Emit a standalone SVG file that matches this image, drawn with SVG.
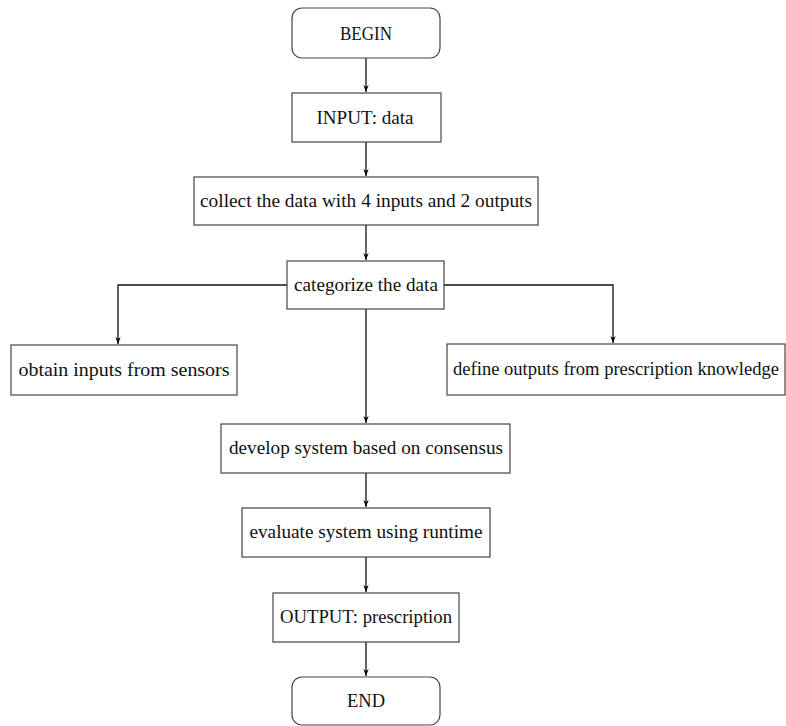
<svg xmlns="http://www.w3.org/2000/svg" width="786" height="726" viewBox="0 0 786 726">
<defs>
<marker id="ah" viewBox="0 0 10 10" refX="10" refY="5" markerWidth="7" markerHeight="7" markerUnits="userSpaceOnUse" orient="auto">
<path d="M0,1.2 L10,5 L0,8.8 L3,5 Z" fill="#000"/>
</marker>
</defs>
<style>
.box{fill:#fff;stroke:#444;stroke-width:1.2}
.lbl{font-family:"Liberation Serif","Times New Roman",serif;font-size:19px;fill:#111;text-anchor:middle}
.con{fill:none;stroke:#111;stroke-width:1.3}
</style>
<rect width="786" height="726" fill="#fff"/>
<g id="connectors">
<path class="con" d="M366,58 V92" marker-end="url(#ah)"/>
<path class="con" d="M366,142 V176" marker-end="url(#ah)"/>
<path class="con" d="M366,225 V260" marker-end="url(#ah)"/>
<path class="con" d="M287,285 H118 V344" marker-end="url(#ah)"/>
<path class="con" d="M444,285 H613 V343" marker-end="url(#ah)"/>
<path class="con" d="M366,309 V423" marker-end="url(#ah)"/>
<path class="con" d="M366,473 V507" marker-end="url(#ah)"/>
<path class="con" d="M366,557 V592" marker-end="url(#ah)"/>
<path class="con" d="M366,642 V676" marker-end="url(#ah)"/>
</g>
<g id="begin"><rect class="box" x="292" y="8" width="148" height="50" rx="10"/><text class="lbl" x="366" y="40" textLength="52" lengthAdjust="spacingAndGlyphs">BEGIN</text></g>
<g id="input"><rect class="box" x="292" y="93" width="149" height="49"/><text class="lbl" x="365" y="124" textLength="97" lengthAdjust="spacingAndGlyphs">INPUT: data</text></g>
<g id="collect"><rect class="box" x="194" y="177" width="344" height="48"/><text class="lbl" x="366" y="207" textLength="332" lengthAdjust="spacingAndGlyphs">collect the data with 4 inputs and 2 outputs</text></g>
<g id="categorize"><rect class="box" x="287" y="261" width="157" height="48"/><text class="lbl" x="366" y="291" textLength="144" lengthAdjust="spacingAndGlyphs">categorize the data</text></g>
<g id="obtain"><rect class="box" x="11" y="345" width="226" height="50"/><text class="lbl" x="124" y="376" textLength="211" lengthAdjust="spacingAndGlyphs">obtain inputs from sensors</text></g>
<g id="define"><rect class="box" x="447" y="344" width="338" height="51"/><text class="lbl" x="616" y="375" textLength="326" lengthAdjust="spacingAndGlyphs">define outputs from prescription knowledge</text></g>
<g id="develop"><rect class="box" x="221" y="424" width="289" height="49"/><text class="lbl" x="366" y="454" textLength="274" lengthAdjust="spacingAndGlyphs">develop system based on consensus</text></g>
<g id="evaluate"><rect class="box" x="242" y="508" width="248" height="49"/><text class="lbl" x="366" y="538" textLength="233" lengthAdjust="spacingAndGlyphs">evaluate system using runtime</text></g>
<g id="output"><rect class="box" x="273" y="593" width="186" height="49"/><text class="lbl" x="366" y="623" textLength="172" lengthAdjust="spacingAndGlyphs">OUTPUT: prescription</text></g>
<g id="end"><rect class="box" x="292" y="677" width="148" height="48" rx="10"/><text class="lbl" x="366" y="707" textLength="38" lengthAdjust="spacingAndGlyphs">END</text></g>
</svg>
